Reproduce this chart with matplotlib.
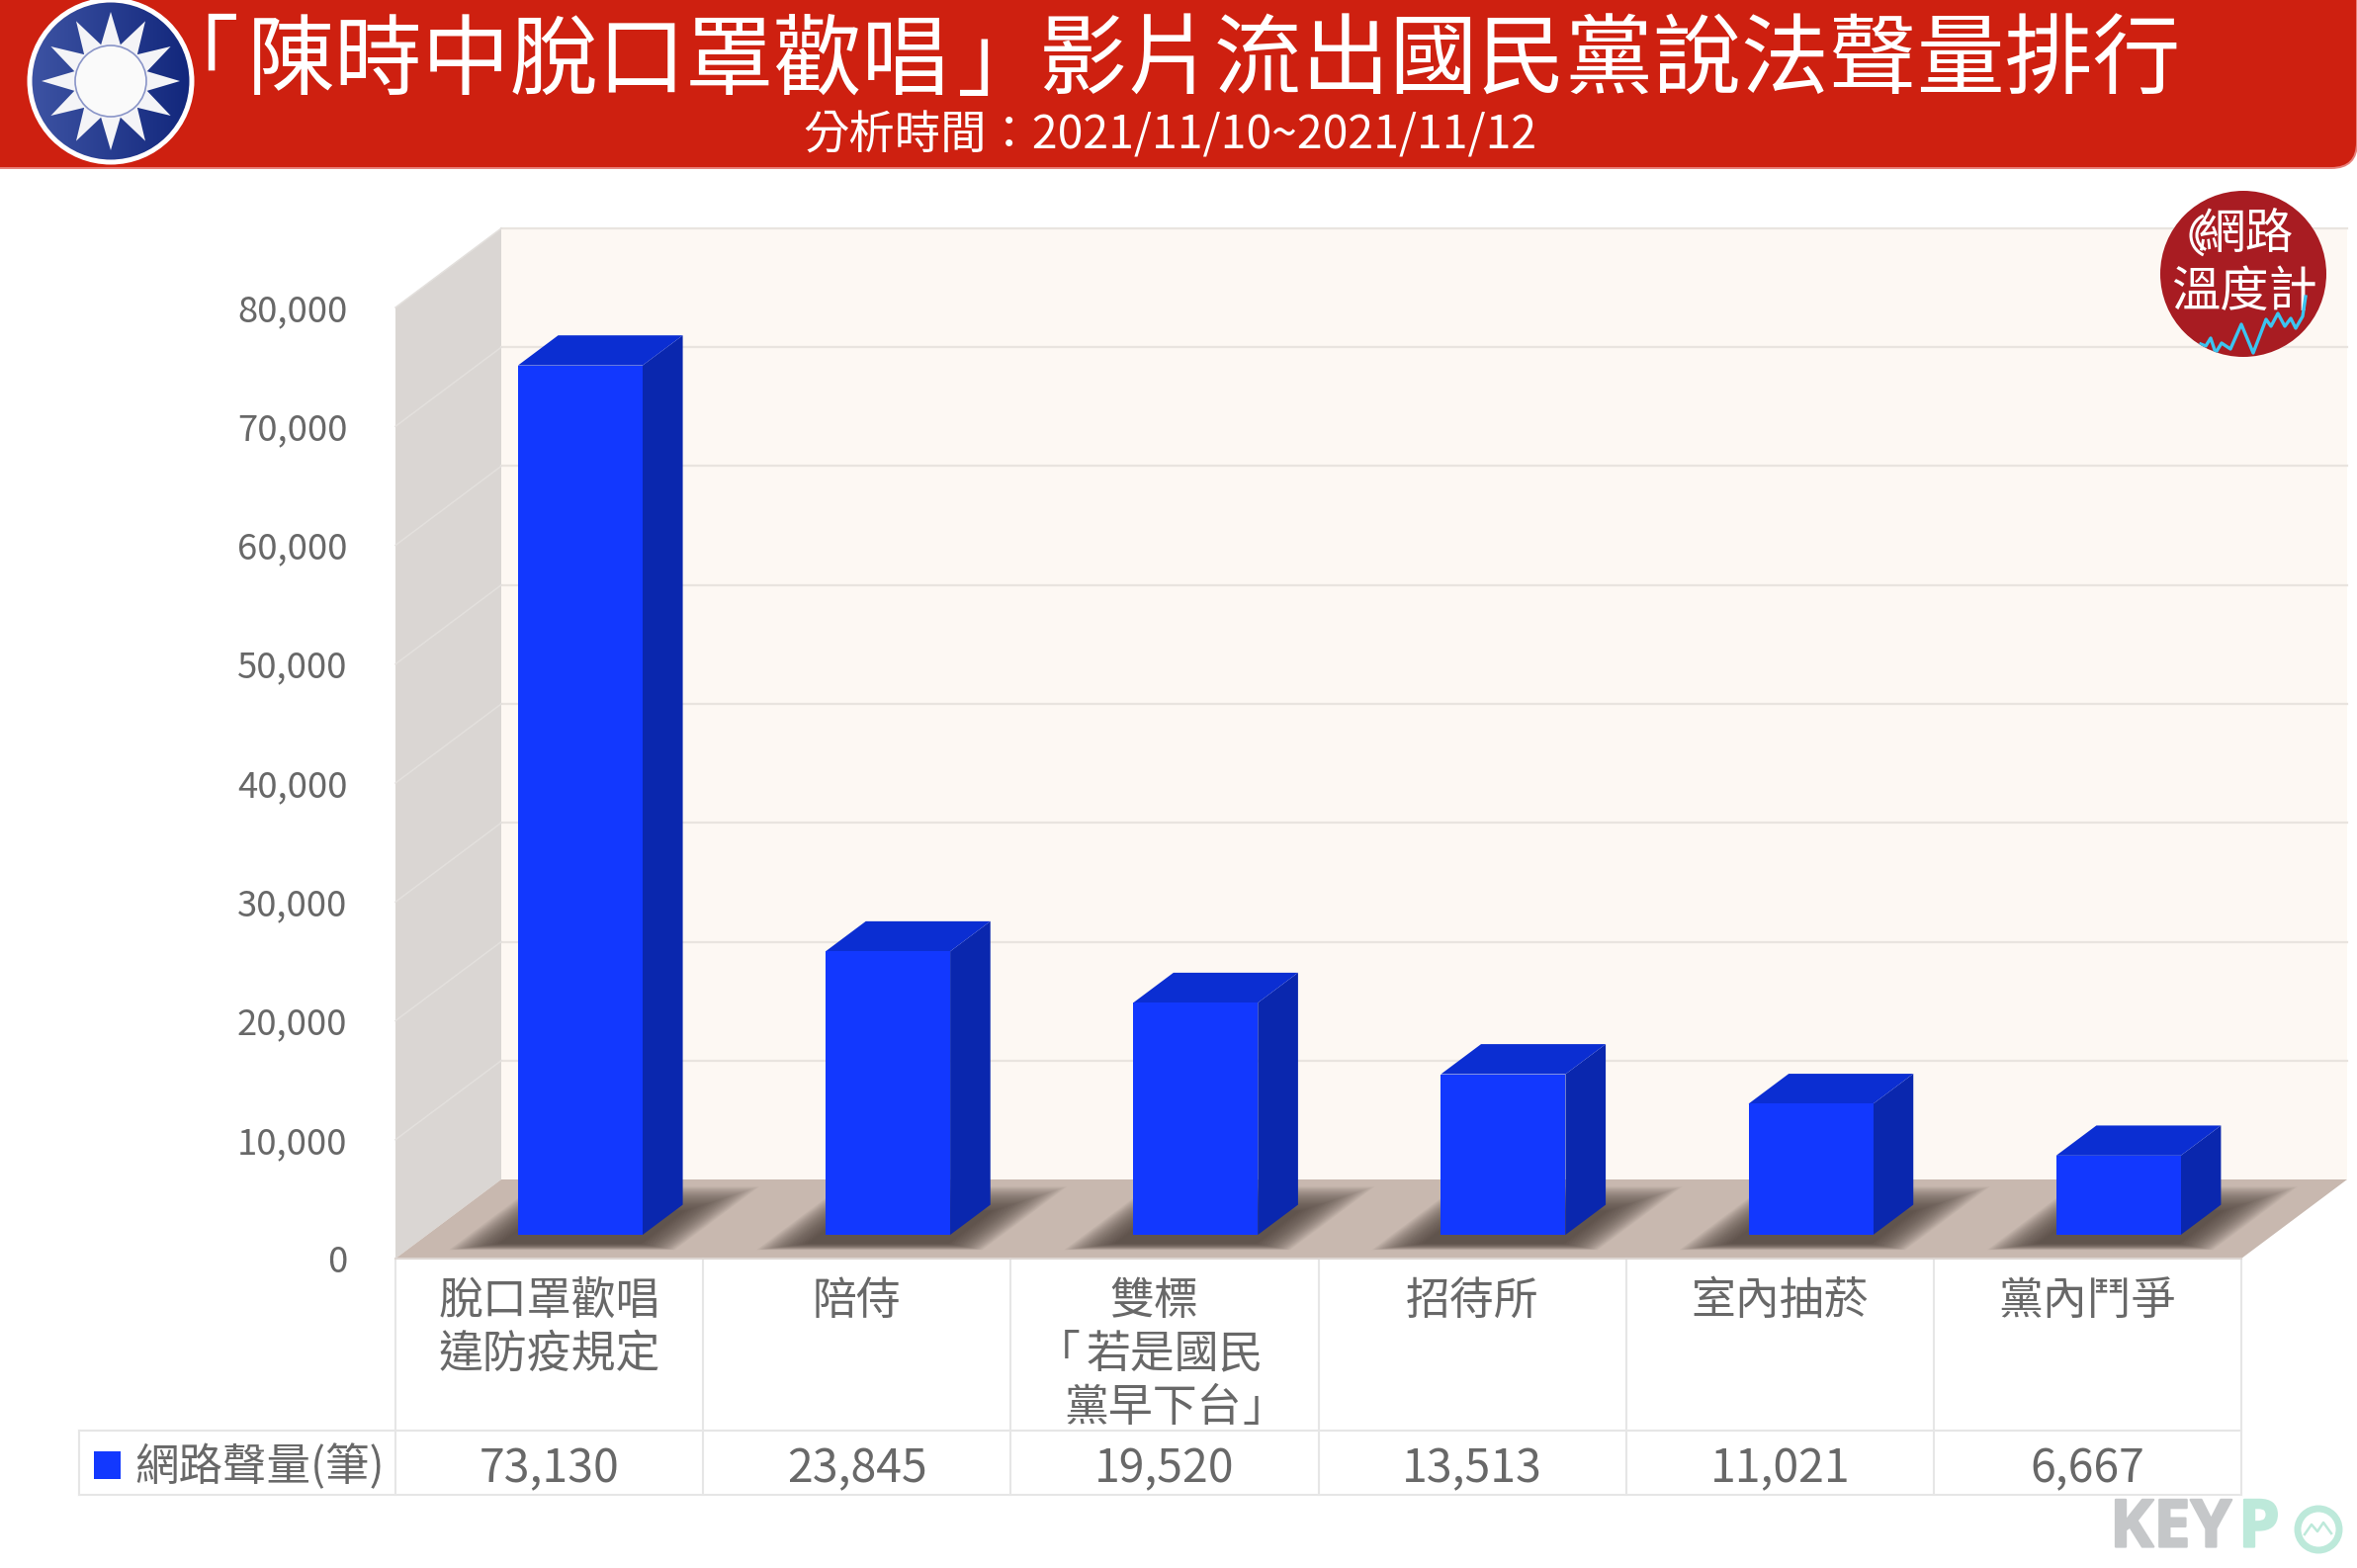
import numpy as np
import matplotlib
matplotlib.use('Agg')
import matplotlib.pyplot as plt
import matplotlib.patheffects as pe
from matplotlib.colors import LinearSegmentedColormap
from matplotlib.patches import Polygon, Circle, Rectangle, FancyBboxPatch, Arc

plt.rcParams['font.family'] = ['Noto Sans CJK TC', 'DejaVu Sans']

# the brackets sit apart from the words in the original, so the title comes in pieces
title_parts = ['「', '陳時中脫口罩歡唱', '」', '影片流出國民黨說法聲量排行']
title_x = [197, 605, 1012, 1628]
subtitle = '分析時間：2021/11/10~2021/11/12'
series_name = '網路聲量(筆)'
categories = ['脫口罩歡唱\n違防疫規定', '陪侍', '雙標\n「若是國民\n黨早下台」', '招待所', '室內抽菸', '黨內鬥爭']
values = [73130, 23845, 19520, 13513, 11021, 6667]
y_ticks = [0, 10000, 20000, 30000, 40000, 50000, 60000, 70000, 80000]

W, H = 2384, 1586
# plot front plane in pixels
LEFT, RIGHT, BOTTOM, TOP = 400, 2267, 1273, 311
DEPTH_PX_X, DEPTH_PX_Y = 107, 80

BLUE_FRONT = '#1238FE'
BLUE_SIDE = '#0A27AE'
BLUE_TOP = '#0B2ED2'
TEXT = '#686868'
LINE = '#E6E6E6'

fig = plt.figure(figsize=(W / 100, H / 100), dpi=100, facecolor='white')
ax = fig.add_axes([LEFT / W, 1 - BOTTOM / H, (RIGHT - LEFT) / W, (BOTTOM - TOP) / H])
ax.set_xlim(0, len(categories))
ax.set_ylim(0, y_ticks[-1])
ax.patch.set_visible(False)
for s in ax.spines.values():
    s.set_visible(False)
ax.set_xticks([])
ax.set_yticks(y_ticks)
ax.set_yticklabels([f'{v:,}' for v in y_ticks], fontsize=26.2, color=TEXT, fontweight='light')
ax.tick_params(axis='y', length=0, pad=35)

dx = DEPTH_PX_X / ((RIGHT - LEFT) / len(categories))
dy = DEPTH_PX_Y / ((BOTTOM - TOP) / y_ticks[-1])


def proj(x, v, d):
    return (x + d * dx, v + d * dy)


def poly(pts, color, z, alpha=None):
    ax.add_patch(Polygon(pts, closed=True, facecolor=color, edgecolor='none',
                         zorder=z, alpha=alpha, clip_on=False))


n = len(categories)
top = y_ticks[-1]
poly([proj(0, 0, 1), proj(0, top, 1), proj(n, top, 1), proj(n, 0, 1)], '#FDF8F3', 1)
poly([proj(0, 0, 0), proj(0, top, 0), proj(0, top, 1), proj(0, 0, 1)], '#DAD6D3', 1)
poly([proj(0, 0, 0), proj(n, 0, 0), proj(n, 0, 1), proj(0, 0, 1)], '#C8B8AF', 2)

for v in y_ticks[1:]:
    x0, y0 = proj(0, v, 1)
    x1, y1 = proj(n, v, 1)
    ax.plot([x0, x1], [y0, y1], color='#E9E4DF', lw=1.6, zorder=1.5, clip_on=False)
    xa, ya = proj(0, v, 0)
    ax.plot([xa, x0], [ya, y0], color='#E3E0DD', lw=1.1, zorder=1.5, clip_on=False)

# soft shadows on the floor, stacked from wide to narrow
layers = 30
for i in range(n):
    for k in range(layers):
        e = 1 - 2 * k / (layers - 1)
        ex = 0.07 * e
        ed = 0.16 * e
        xl, xr = i + 0.206 - ex, i + 0.80 + ex
        d0, d1 = 0.15 - 0.25 * ed, 0.75 + ed
        poly([proj(xl, 0, d0), proj(xr, 0, d0), proj(xr, 0, d1), proj(xl, 0, d1)],
             '#4F433D', 3, alpha=0.05)

# the bars
for i, v in enumerate(values):
    x0, x1 = i + 0.295, i + 0.70
    d0, d1 = 0.30, 0.68
    poly([proj(x1, 0, d0), proj(x1, 0, d1), proj(x1, v, d1), proj(x1, v, d0)], BLUE_SIDE, 4)
    poly([proj(x0, v, d0), proj(x1, v, d0), proj(x1, v, d1), proj(x0, v, d1)], BLUE_TOP, 4)
    poly([proj(x0, 0, d0), proj(x1, 0, d0), proj(x1, v, d0), proj(x0, v, d0)], BLUE_FRONT, 5)

# pixel overlay for header, table and logos
ov = fig.add_axes([0, 0, 1, 1], zorder=5)
ov.set_xlim(0, W)
ov.set_ylim(H, 0)
ov.axis('off')
ov.patch.set_visible(False)

# header
ov.add_patch(FancyBboxPatch((-60, -60), W + 60, 230, boxstyle='round,pad=0,rounding_size=26',
                            facecolor='#CE2010', edgecolor='#E8807A', lw=1.4))
for part, x in zip(title_parts, title_x):
    ov.text(x, 89, part, color='white', fontsize=64, ha='center', va='baseline')
ov.text(1183, 137, subtitle, color='white', fontsize=33.4, ha='center', va='center')

# flag logo
fx, fy = 112, 82
ring = Circle((fx, fy), 80, facecolor='none', edgecolor='none')
ov.add_patch(ring)
grad = np.linspace(0, 1, 200).reshape(1, -1)
img = ov.imshow(grad, extent=(fx - 80, fx + 80, fy + 80, fy - 80),
                cmap=LinearSegmentedColormap.from_list('f', ['#3D53A3', '#12277C']),
                aspect='auto', zorder=2)
img.set_clip_path(ring)
ov.set_xlim(0, W)
ov.set_ylim(H, 0)
ov.add_patch(Circle((fx, fy), 82, facecolor='none', edgecolor='white', lw=3.6, zorder=3))
ang = np.arange(24) * np.pi / 12 - np.pi / 2
rad = np.where(np.arange(24) % 2 == 0, 70, 38)
ov.add_patch(Polygon(np.c_[fx + rad * np.cos(ang), fy + rad * np.sin(ang)], facecolor='#F4F4F7',
                     edgecolor='none', zorder=3))
ov.add_patch(Circle((fx, fy), 36, facecolor='#FAFAFA', edgecolor='#8A95C8', lw=1.2, zorder=4))

# table
col_w = (RIGHT - LEFT) / n
ROW0, ROW1, ROW2 = 1273, 1447, 1512
for i in range(n + 1):
    ov.plot([LEFT + i * col_w] * 2, [ROW0, ROW2], color=LINE, lw=1.5)
ov.plot([LEFT, RIGHT], [ROW0, ROW0], color='#DDD6D2', lw=1.5)
ov.plot([80, RIGHT], [ROW1, ROW1], color=LINE, lw=1.5)
ov.plot([80, RIGHT], [ROW2, ROW2], color=LINE, lw=1.5)
ov.plot([80, 80], [ROW1, ROW2], color=LINE, lw=1.5)

# lines of the third column are not centred in the original
line_pieces = {
    '雙標': [('雙標', -11)],
    '「若是國民': [('「', -108), ('若是國民', 10)],
    '黨早下台」': [('黨早下台', -12), ('」', 101)],
}
line_gap = 54
for i, (c, v) in enumerate(zip(categories, values)):
    cx = LEFT + (i + 0.5) * col_w
    for j, line in enumerate(c.split('\n')):
        for part, shift in line_pieces.get(line, [(line, 0)]):
            ov.text(cx + shift, 1329 + j * line_gap, part, color=TEXT, fontsize=32.3,
                    fontweight='light', ha='center', va='baseline')
    ov.text(cx, 1486, f'{v:,}', color=TEXT, fontsize=33.4, fontweight='light', ha='center', va='center')
ov.add_patch(Rectangle((95, 1468), 27, 28, facecolor=BLUE_FRONT, edgecolor='none'))
ov.text(136, 1484, series_name, color=TEXT, fontsize=32, fontweight='light', ha='left', va='center')

# badge
badge = Circle((2269, 277), 84, facecolor='#A81C22', edgecolor='none', zorder=6)
ov.add_patch(badge)
ov.text(2271, 237, '網路', color='white', fontsize=35, ha='center', va='center', zorder=7)
ov.text(2270, 296, '溫度計', color='white', fontsize=35.5, ha='center', va='center', zorder=7)
for r in (16, 22):
    ov.add_patch(Arc((2238, 238), 2 * r, 2 * r, theta1=115, theta2=245, color='white', lw=2.2, zorder=7))
spark_x = [2226, 2231, 2236, 2241, 2247, 2256, 2267, 2279, 2292, 2297, 2304, 2311, 2317, 2322, 2329, 2332]
spark_y = [348, 350, 342, 357, 347, 353, 328, 357, 323, 330, 317, 330, 322, 332, 320, 300]
sp, = ov.plot(spark_x, spark_y, color='#3CC4F0', lw=2.4, zorder=8)
sp.set_clip_path(badge)

# keypo logo
grey_stroke = [pe.withStroke(linewidth=1.6, foreground='#C5C7C9')]
mint_stroke = [pe.withStroke(linewidth=1.6, foreground='#BDE9DA')]
ov.text(2134, 1547, 'KEY', color='#C5C7C9', fontsize=48, fontweight='bold', family='Open Sans',
        ha='left', va='center', path_effects=grey_stroke)
ov.text(2264, 1547, 'P', color='#BDE9DA', fontsize=48, fontweight='bold', family='Open Sans',
        ha='left', va='center', path_effects=mint_stroke)
ov.add_patch(Circle((2345, 1547), 21, facecolor='none', edgecolor='#BDE9DA', lw=5))
ov.plot([2331, 2338, 2344, 2350, 2358], [1552, 1542, 1549, 1540, 1551], color='#BDE9DA', lw=1.8)

fig.savefig('out.png', dpi=100, facecolor='white')
